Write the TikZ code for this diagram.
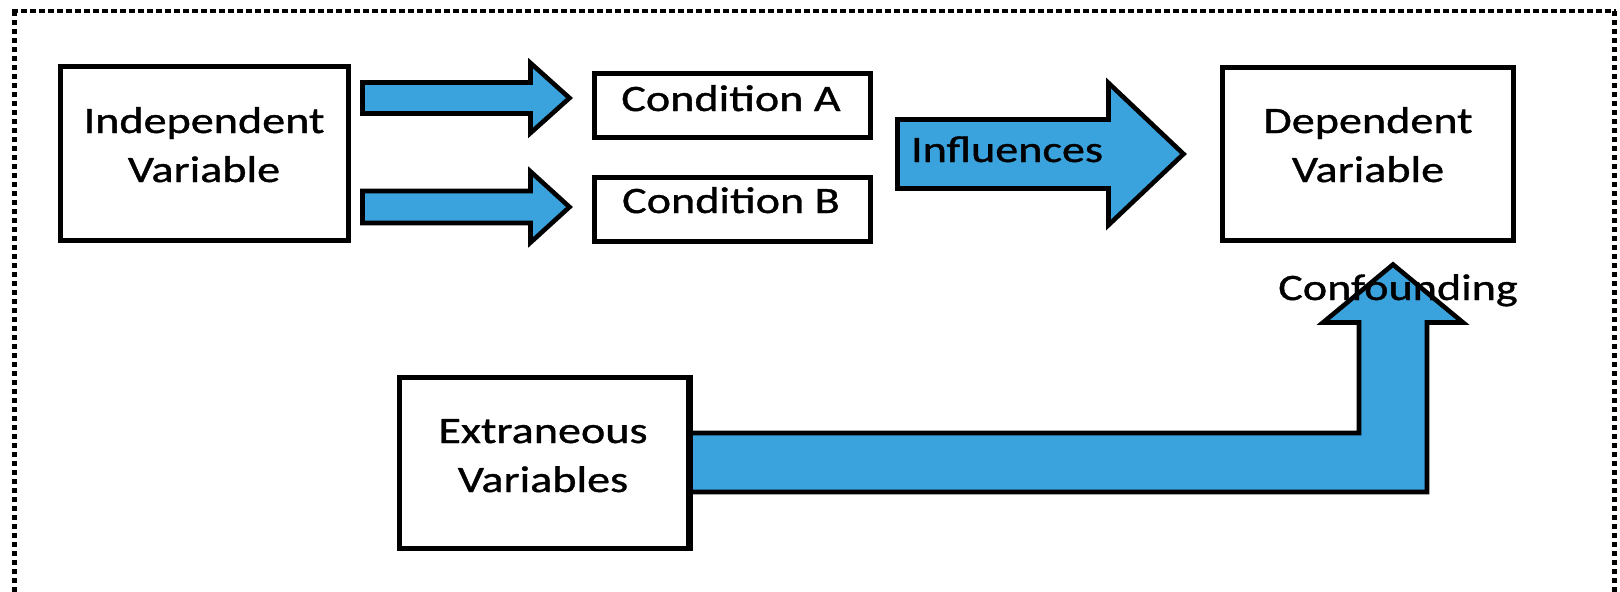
\documentclass[tikz,border=0pt]{standalone}
\usepackage{fontspec}
\setmainfont{Carlito}[FakeStretch=1.24,FakeBold=1]
\usetikzlibrary{calc}
\definecolor{arrowblue}{RGB}{58,162,220}

% block arrow pointing right: start centre, tip, body half-width, head half-width, head length
\newcommand\rightblock[5]{%
  \draw[blockarrow] ($(#1)+(0,-#3)$) -- ($(#2)+(-#5,-#3)$) -- ($(#2)+(-#5,-#4)$) -- (#2)
    -- ($(#2)+(-#5,#4)$) -- ($(#2)+(-#5,#3)$) -- ($(#1)+(0,#3)$) -- cycle;}

\begin{document}
\begin{tikzpicture}[x=0.5pt,y=-0.5pt,
  box/.style={draw=black, line width=2.5pt, fill=white, rectangle, inner sep=0pt},
  blockarrow/.style={draw=black, line width=2.3pt, fill=arrowblue, line join=miter},
  lbl/.style={inner sep=0pt, align=center, anchor=base,
    font=\fontsize{18.6pt}{24.5pt}\selectfont},
  frameside/.style={line width=2.5pt, dash pattern=on 2.4pt off 2.1pt},
  frametop/.style={line width=2.3pt, dash pattern=on 3pt off 1.5pt}]
\path[use as bounding box] (0,0) rectangle (1620,591);

% dotted outer frame (open at the bottom edge of the page)
\draw[frameside] (14,11) -- (14,620);
\draw[frameside] (1614,11) -- (1614,620);
\draw[frametop] (12,11) -- (1616,11);

% boxes
\node[box, minimum width=144pt,   minimum height=87pt]   (iv) at (204,153)     {};
\node[box, minimum width=138pt,   minimum height=32pt]   (ca) at (732,105)     {};
\node[box, minimum width=138pt,   minimum height=32pt]   (cb) at (732,209)     {};
\node[box, minimum width=145.5pt, minimum height=86.5pt] (dv) at (1367.5,153.5) {};
\node[box, minimum width=144.5pt, minimum height=85.5pt] (ev) at (543.5,462.5) {};

% arrows from the independent variable to the two conditions
\coordinate (a1s) at ($(iv.east)+(12,-55)$);
\coordinate (a1t) at ($(ca.west)+(-22,-7)$);
\rightblock{a1s}{a1t}{15.5}{35}{39}
\coordinate (a2s) at ($(iv.east)+(12,54)$);
\coordinate (a2t) at ($(cb.west)+(-22,-2)$);
\rightblock{a2s}{a2t}{16}{35.5}{39}

% influences arrow
\coordinate (a3s) at ($($(ca.east)!0.5!(cb.east)$)+(25,-3)$);
\coordinate (a3t) at ($(dv.west)+(-36,0.5)$);
\rightblock{a3s}{a3t}{34.5}{71}{75}

% bent confounding arrow from the extraneous variables up to the dependent variable
\coordinate (es) at (ev.east);
\coordinate (ctip) at ($(dv.south)+(25.5,22)$);
\draw[blockarrow] ($(es)+(0,-29.5)$) -- ($(ctip |- es)+(-34,-29.5)$) -- ($(ctip)+(-34,58)$)
  -- ($(ctip)+(-70,58)$) -- (ctip) -- ($(ctip)+(70,58)$) -- ($(ctip)+(34,58)$)
  -- ($(ctip |- es)+(34,29.5)$) -- ($(es)+(0,29.5)$) -- cycle;
\draw[line width=2.5pt] (ev.north east) -- (ev.south east);

% texts (multi-line labels are placed by the baseline of their last line)
\node[lbl] (ivt) at (204,182)  {Independent\\Variable};
\node[lbl] (cat) at (731,111)  {Condition A};
\node[lbl] (cbt) at (731,213)  {Condition B};
\node[lbl] (inf) at (1007,162) {Influences};
\node[lbl] (dvt) at (1368,182) {Dependent\\Variable};
\node[lbl] (conf) at (1398,300) {Confounding};
\node[lbl] (evt) at (543,492)  {Extraneous\\Variables};
\end{tikzpicture}
\end{document}
